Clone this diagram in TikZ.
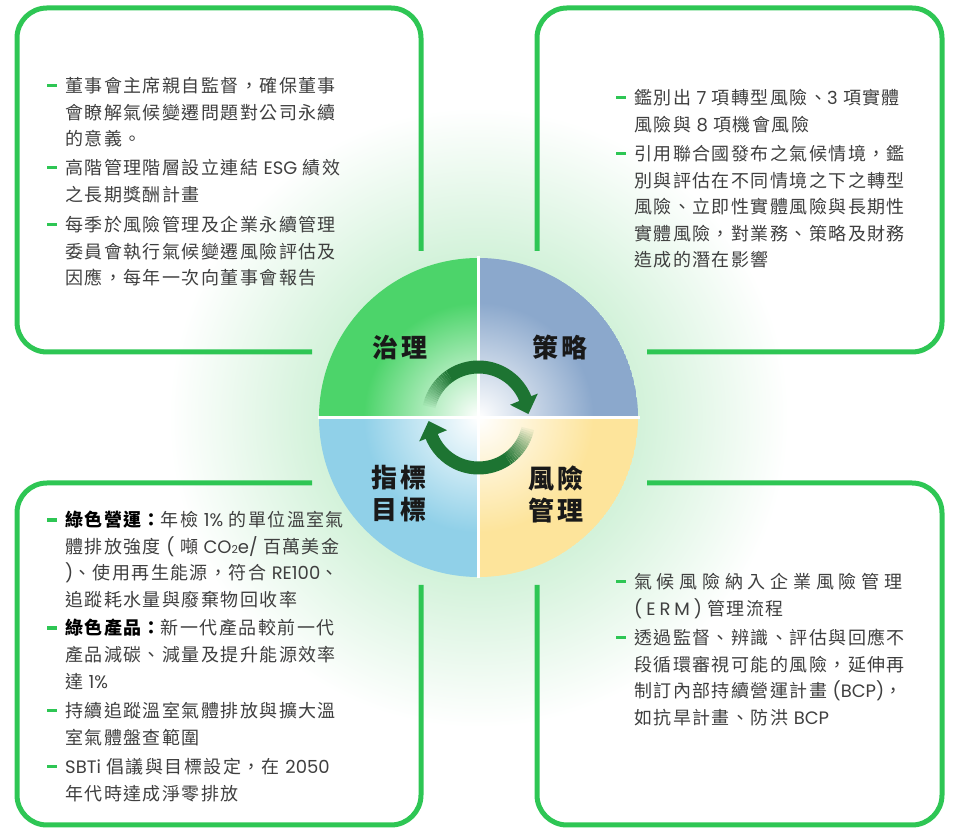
\documentclass[tikz,border=0pt]{standalone}
\usepackage{fontspec}
\setmainfont{Noto Sans CJK TC}[LetterSpace=8]
\newfontfamily\lat{Poppins}
\usetikzlibrary{calc}

\definecolor{boxgreen}{HTML}{2EC654}
\definecolor{glowgreen}{HTML}{D3F2DA}
\definecolor{govgreen}{HTML}{4CD46A}
\definecolor{stratblue}{HTML}{8BA8CC}
\definecolor{riskyellow}{HTML}{FDE49B}
\definecolor{metricblue}{HTML}{90D0E8}
\definecolor{cyclegreen}{HTML}{1D7432}
\definecolor{bodytext}{HTML}{3F3F3F}

\pgfdeclareradialshading{glow}{\pgfpoint{0bp}{0bp}}{%
  color(0bp)=(glowgreen); color(13bp)=(glowgreen); color(25bp)=(white); color(50bp)=(white)}

\newcommand{\itemdash}{\makebox[0pt][r]{\textcolor{boxgreen}{\rule[5.2bp]{10bp}{3.4bp}}\hspace{8bp}}}

\begin{document}
\begin{tikzpicture}[x=1bp, y=1bp,
	boxline/.style={boxgreen, line width=5bp, rounded corners=30bp},
	itemtext/.style={anchor=north west, inner sep=0pt, align=left, text=bodytext,
		font=\fontsize{18bp}{26.6bp}\selectfont},
	quadlabel/.style={inner sep=0pt, align=center, text=black!90,
		font=\fontsize{26bp}{32bp}\selectfont\bfseries}]
	\useasboundingbox (0,0) rectangle (955,828);
	\coordinate (c) at (478.5,410.5);

	% glow behind everything
	\shade[shading=glow] (c) circle (310);

	% four quadrants
	\foreach \start/\col in {90/govgreen, 0/stratblue, 270/riskyellow, 180/metricblue} {
		\begin{scope}
			\clip (c) -- ($(c)+(\start:159.5)$) arc[start angle=\start, end angle=\start+90, radius=159.5] -- cycle;
			\fill[\col] (c) circle (159.5);
			\shade[inner color=white, outer color=\col] (c) circle (115);
		\end{scope}
	}
	\draw[white, line width=3bp] ($(c)+(0,161)$) -- ($(c)+(0,-161)$);
	\draw[white, line width=3bp] ($(c)+(-161,0)$) -- ($(c)+(161,0)$);

	% cycle arrows
	\foreach \i [evaluate=\i as \op using \i/18] in {0,...,17} {
		\draw[cyclegreen, line width=13bp, opacity=\op] ($(c)+({170-\i*2.5}:50.5)$) arc[start angle={170-\i*2.5}, end angle={167.5-\i*2.5}, radius=50.5];
		\draw[cyclegreen, line width=13bp, opacity=\op] ($(c)+({-10-\i*2.5}:50.5)$) arc[start angle={-10-\i*2.5}, end angle={-12.5-\i*2.5}, radius=50.5];
	}
	\draw[cyclegreen, line width=13bp] ($(c)+(125:50.5)$) arc[start angle=125, end angle=21, radius=50.5];
	\fill[cyclegreen] ($(c)+(22:34)$) -- ($(c)+(22:64)$) -- ($(c)+(4:50)$) -- cycle;
	\draw[cyclegreen, line width=13bp] ($(c)+(-55:50.5)$) arc[start angle=-55, end angle=-159, radius=50.5];
	\fill[cyclegreen] ($(c)+(202:34)$) -- ($(c)+(202:64)$) -- ($(c)+(184:50)$) -- cycle;

	% quadrant labels
	\node[quadlabel] (gov) at (400,480) {治理};
	\node[quadlabel] (strat) at (560,480) {策略};
	\node[quadlabel] (risk) at (556,334) {風險\\管理};
	\node[quadlabel] (metric) at (399,334) {指標\\目標};

	% open boxes
	\draw[boxline] (421,577) -- (421,820) -- (17,820) -- (17,476) -- (312,476);
	\draw[boxline] (537,577) -- (537,820) -- (942,820) -- (942,476) -- (647,476);
	\draw[boxline] (312,345) -- (17,345) -- (17,3) -- (421,3) -- (421,243);
	\draw[boxline] (647,345) -- (942,345) -- (942,3) -- (537,3) -- (537,243);

	% governance
	\node[itemtext] (gov1) at (65,751) {\itemdash 董事會主席親自監督，確保董事\\會瞭解氣候變遷問題對公司永續\\的意義。};
	\node[itemtext] (gov2) at (65,669) {\itemdash 高階管理階層設立連結 {\lat ESG} 績效\\之長期獎酬計畫};
	\node[itemtext] (gov3) at (65,612) {\itemdash 每季於風險管理及企業永續管理\\委員會執行氣候變遷風險評估及\\因應，每年一次向董事會報告};

	% strategy
	\node[itemtext] (strat1) at (634,739) {\itemdash 鑑別出 {\lat 7} 項轉型風險、{\lat 3} 項實體\\風險與 {\lat 8} 項機會風險};
	\node[itemtext] (strat2) at (634,683) {\itemdash 引用聯合國發布之氣候情境，鑑\\別與評估在不同情境之下之轉型\\風險、立即性實體風險與長期性\\實體風險，對業務、策略及財務\\造成的潛在影響};

	% metrics and targets
	\node[itemtext] (metric1) at (65,317) {\itemdash {\bfseries\color{black}綠色營運：}年檢 {\lat 1\%} 的單位溫室氣\\體排放強度 {\lat (} 噸 {\lat CO{\fontsize{11bp}{11bp}\selectfont 2}e/} 百萬美金\\{\lat )}、使用再生能源，符合 {\lat RE100}、\\追蹤耗水量與廢棄物回收率};
	\node[itemtext] (metric2) at (65,209) {\itemdash {\bfseries\color{black}綠色產品：}新一代產品較前一代\\產品減碳、減量及提升能源效率\\達 {\lat 1\%}};
	\node[itemtext] (metric3) at (65,126) {\itemdash 持續追蹤溫室氣體排放與擴大溫\\室氣體盤查範圍};
	\node[itemtext] (metric4) at (65,70) {\itemdash {\lat SBTi} 倡議與目標設定，在 {\lat 2050}\\年代時達成淨零排放};

	% risk management
	\node[itemtext] (risk1) at (634,255) {\itemdash \hbox to 268bp{氣\hfil 候\hfil 風\hfil 險\hfil 納\hfil 入\hfil 企\hfil 業\hfil 風\hfil 險\hfil 管\hfil 理}\\{\lat\addfontfeature{LetterSpace=22}(ERM)} 管理流程};
	\node[itemtext] (risk2) at (634,199) {\itemdash 透過監督、辨識、評估與回應不\\段循環審視可能的風險，延伸再\\制訂內部持續營運計畫 {\lat (BCP)}，\\如抗旱計畫、防洪 {\lat BCP}};
\end{tikzpicture}
\end{document}
